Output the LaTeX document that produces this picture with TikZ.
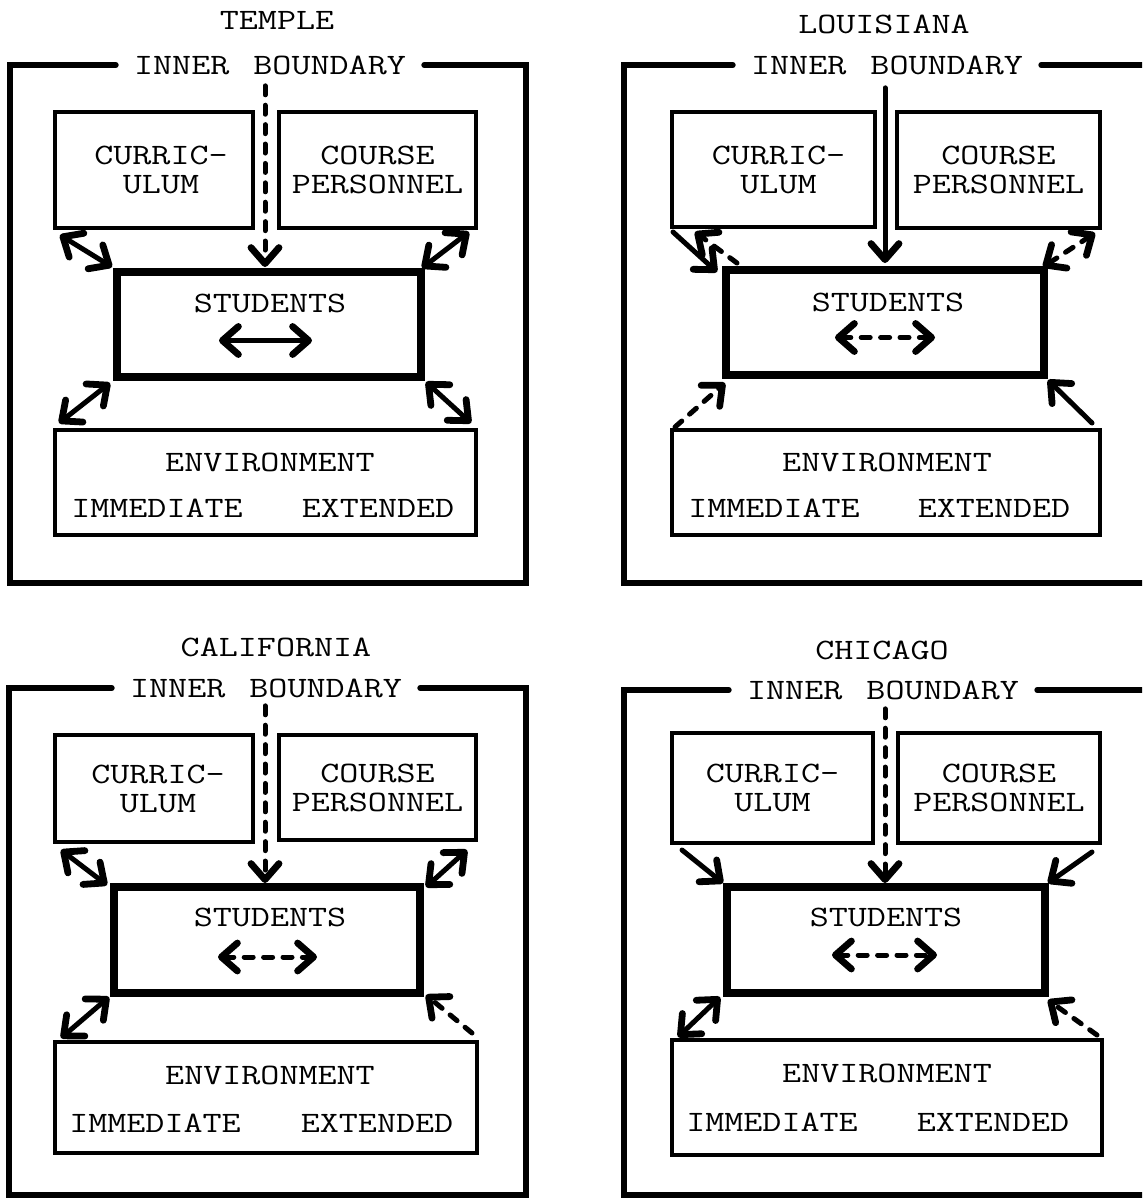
\documentclass[tikz,border=0pt]{standalone}
\usepackage{graphicx}
\newcommand\twf{\ttfamily\fontsize{14.8}{14.5}\selectfont}
\newcommand\W[1]{\scalebox{1.25}[1]{#1}}
\usetikzlibrary{arrows.meta,calc}
\tikzset{
  chev/.tip={Straight Barb[length=8pt,width=14pt,line width=3.4pt,round]},
  lbl/.style={font=\twf, inner sep=0pt},
  thinbox/.style={draw, line width=2pt, outer sep=0pt, align=center, font=\twf},
  stubox/.style={draw, line width=3.6pt, outer sep=0pt},
  frame/.style={line width=3pt, line cap=round},
  ibl/.style={lbl, inner xsep=9pt, inner ysep=2pt},
  con/.style={line width=2.5pt, line cap=round},
  dcon/.style={con, dash pattern=on 4.5pt off 5.2pt},
}
\newcommand\bx[7]{\node[#1, minimum width={(#5-#3)*0.5pt}, minimum height={(#6-#4)*0.5pt}] (#2) at ({(#3+#5)/2},{(#4+#6)/2}) {#7};}
\begin{document}
\begin{tikzpicture}[x=0.5pt,y=-0.5pt]
\useasboundingbox (0,0) rectangle (1142,1200);
\fill[white] (0,0) rectangle (1142,1200);
\clip (0,0) rectangle (1142,1200);

% ---------------- TEMPLE ----------------
\node[lbl] (t-title) at (277,20) {\W{TEMPLE}};
\node[ibl] (t-ib) at (270,65) {\W{INNER\hspace{2pt} BOUNDARY}};
\draw[frame] (t-ib.west) -- (10,65) -- (10,583) -- (526,583) -- (526,65) -- (t-ib.east);
\bx{thinbox}{t-cur}{55}{112}{253}{228}{\hspace*{7pt}\W{CURRIC-}\\\hspace*{7pt}\W{ULUM}}
\bx{thinbox}{t-cp}{279}{112}{476}{228}{\W{COURSE}\\\W{PERSONNEL}}
\bx{stubox}{t-stu}{117}{272}{421}{377}{}
\bx{thinbox}{t-env}{55}{430}{476}{535}{}
\node[lbl] (t-stl) at (270,303) {\W{STUDENTS}};
\node[lbl] (t-enl) at (270,462) {\W{ENVIRONMENT}};
\node[lbl] (t-im) at (157,508) {\W{IMMEDIATE}};
\node[lbl] (t-ex) at (378,508) {\W{EXTENDED}};
\draw[con,chev-chev] ($(t-cur.south west)+(5,7)$) -- ($(t-stu.north west)+(-5,-5)$);
\draw[con,chev-chev] ($(t-cp.south east)+(-7,4)$) -- ($(t-stu.north east)+(1,-4)$);
\draw[con,chev-chev] ($(t-stu.south west)+(-7,6)$) -- ($(t-env.north west)+(4,-7)$);
\draw[con,chev-chev] ($(t-stu.south east)+(5,5)$) -- ($(t-env.north east)+(-5,-7)$);
\draw[dcon,-chev] ($(t-ib.south)+(-5,7)$) -- ($(t-stu.north)+(-4,-5)$);
\draw[con,chev-chev] ($(t-stu.center)+(-50,16)$) -- ($(t-stu.center)+(43,16)$);

% ---------------- LOUISIANA ----------------
\node[lbl] (l-title) at (884,24) {\W{LOUISIANA}};
\node[ibl] (l-ib) at (887,65) {\W{INNER\hspace{2pt} BOUNDARY}};
\draw[frame] (l-ib.west) -- (624,65) -- (624,583) -- (1170,583);
\draw[frame] (l-ib.east) -- (1170,65);
\bx{thinbox}{l-cur}{672}{112}{875}{227}{\hspace*{5pt}\W{CURRIC-}\\\hspace*{5pt}\W{ULUM}}
\bx{thinbox}{l-cp}{897}{112}{1100}{228}{\W{COURSE}\\\W{PERSONNEL}}
\bx{stubox}{l-stu}{726}{270}{1044}{375}{}
\bx{thinbox}{l-env}{672}{430}{1100}{535}{}
\node[lbl] (l-stl) at (888,302) {\W{STUDENTS}};
\node[lbl] (l-enl) at (887,462) {\W{ENVIRONMENT}};
\node[lbl] (l-im) at (774,508) {\W{IMMEDIATE}};
\node[lbl] (l-ex) at (994,508) {\W{EXTENDED}};
\draw[con,-chev] ($(l-cur.south west)+(1,5)$) -- ($(l-stu.north west)+(-9,2)$);
\draw[dcon,-chev] ($(l-stu.north west)+(11,-7)$) -- ($(l-cur.south west)+(23,5)$);
\draw[dcon,chev-chev] ($(l-cp.south east)+(-5,5)$) -- ($(l-stu.north east)+(-1,-3)$);
\draw[con,-chev] ($(l-ib.south)+(-2,9)$) -- ($(l-stu.north)+(0,-7)$);
\draw[dcon,chev-chev] ($(l-stu.center)+(-50,15)$) -- ($(l-stu.center)+(50,15)$);
\draw[dcon,-chev] ($(l-env.north west)+(3,-3)$) -- ($(l-stu.south west)+(-1,8)$);
\draw[con,-chev] ($(l-env.north east)+(-8,-7)$) -- ($(l-stu.south east)+(4,5)$);

% ---------------- CALIFORNIA ----------------
\node[lbl] (c-title) at (276,647) {\W{CALIFORNIA}};
\node[ibl] (c-ib) at (266,688) {\W{INNER\hspace{2pt} BOUNDARY}};
\draw[frame] (c-ib.west) -- (9,688) -- (9,1195) -- (526,1195) -- (526,688) -- (c-ib.east);
\bx{thinbox}{c-cur}{55}{735}{253}{842}{\hspace*{4pt}\W{CURRIC-}\\\hspace*{4pt}\W{ULUM}}
\bx{thinbox}{c-cp}{279}{735}{476}{840}{\W{COURSE}\\\W{PERSONNEL}}
\bx{stubox}{c-stu}{114}{887}{420}{993}{}
\bx{thinbox}{c-env}{55}{1042}{477}{1153}{}
\node[lbl] (c-stl) at (270,917) {\W{STUDENTS}};
\node[lbl] (c-enl) at (270,1075) {\W{ENVIRONMENT}};
\node[lbl] (c-im) at (155,1123) {\W{IMMEDIATE}};
\node[lbl] (c-ex) at (377,1123) {\W{EXTENDED}};
\draw[con,chev-chev] ($(c-cur.south west)+(6,8)$) -- ($(c-stu.north west)+(-7,-2)$);
\draw[con,chev-chev] ($(c-cp.south east)+(-9,10)$) -- ($(c-stu.north east)+(6,0)$);
\draw[dcon,-chev] ($(c-ib.south)+(-1,4)$) -- ($(c-stu.north)+(-2,-4)$);
\draw[dcon,chev-chev] ($(c-stu.center)+(-49,17)$) -- ($(c-stu.center)+(50,17)$);
\draw[con,chev-chev] ($(c-stu.south west)+(-5,4)$) -- ($(c-env.north west)+(6,-4)$);
\draw[dcon,-chev] ($(c-env.north east)+(-5,-9)$) -- ($(c-stu.south east)+(6,2)$);

% ---------------- CHICAGO ----------------
\node[lbl] (h-title) at (882,650) {\W{CHICAGO}};
\node[ibl] (h-ib) at (883,690) {\W{INNER\hspace{2pt} BOUNDARY}};
\draw[frame] (h-ib.west) -- (624,690) -- (624,1195) -- (1170,1195);
\draw[frame] (h-ib.east) -- (1170,690);
\bx{thinbox}{h-cur}{672}{733}{873}{843}{\W{CURRIC-}\\\W{ULUM}}
\bx{thinbox}{h-cp}{898}{733}{1100}{843}{\W{COURSE}\\\W{PERSONNEL}}
\bx{stubox}{h-stu}{727}{887}{1045}{993}{}
\bx{thinbox}{h-env}{672}{1040}{1102}{1155}{}
\node[lbl] (h-stl) at (886,917) {\W{STUDENTS}};
\node[lbl] (h-enl) at (887,1073) {\W{ENVIRONMENT}};
\node[lbl] (h-im) at (772,1122) {\W{IMMEDIATE}};
\node[lbl] (h-ex) at (993,1122) {\W{EXTENDED}};
\draw[con,-chev] ($(h-cur.south west)+(10,7)$) -- ($(h-stu.north west)+(-4,-4)$);
\draw[con,-chev] ($(h-cp.south east)+(-8,9)$) -- ($(h-stu.north east)+(3,-4)$);
\draw[dcon,-chev] ($(h-ib.south)+(2,5)$) -- ($(h-stu.north)+(-1,-4)$);
\draw[dcon,chev-chev] ($(h-stu.center)+(-54,15)$) -- ($(h-stu.center)+(51,15)$);
\draw[con,chev-chev] ($(h-stu.south west)+(-7,4)$) -- ($(h-env.north west)+(6,-3)$);
\draw[dcon,-chev] ($(h-env.north east)+(-5,-5)$) -- ($(h-stu.south east)+(3,7)$);
\end{tikzpicture}
\end{document}
